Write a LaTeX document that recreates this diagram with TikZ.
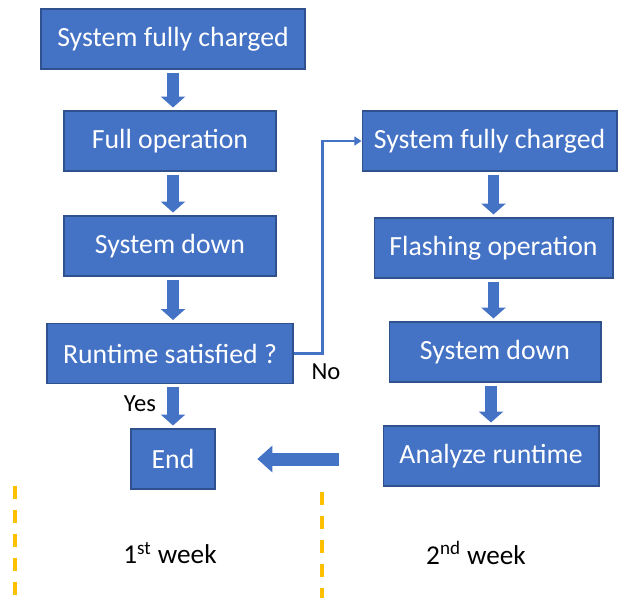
\documentclass[tikz,border=0pt]{standalone}
\usepackage{fontspec}
\setmainfont{Carlito}
\usepackage{tikz}
\usetikzlibrary{arrows.meta}
\definecolor{boxblue}{HTML}{4472C4}
\definecolor{boxline}{HTML}{2F528F}
\definecolor{weekgold}{HTML}{FFC000}

\begin{document}
\begin{tikzpicture}[x=0.02cm, y=-0.02cm, thick,
	main node/.style={rectangle,draw=boxline,fill=boxblue,text=white,line width=0.6pt,
		inner sep=0pt,minimum height=1.2cm,font=\fontsize{15.8}{18}\selectfont},
	text node/.style={font=\fontsize{14}{17}\selectfont,inner sep=0pt},
	week node/.style={font=\fontsize{15.5}{18}\selectfont,inner sep=0pt},
	flow/.style={draw=boxblue,line width=6.8pt,-{Triangle[width=13.6pt,length=6.2pt]}},
	back flow/.style={draw=boxblue,line width=7.4pt,-{Triangle[width=14.7pt,length=8.5pt]}},
	link/.style={draw=boxblue,line width=1.2pt,-{Triangle[width=5pt,length=4pt]}},
	week line/.style={draw=weekgold,line width=2.1pt,dash pattern=on 7.4pt off 6.2pt}]
	\useasboundingbox (0,0) rectangle (618,598);
	
	\node[main node,minimum width=5.28cm] (1) at (173,39) {System fully charged};
	\node[main node,minimum width=4.24cm] (2) at (170,141) {Full operation};
	\node[main node,minimum width=4.24cm] (3) at (170,246) {System down};
	\node[main node,minimum width=4.92cm] (4) at (170,353.5) {Runtime satisfied ?};
	\node[main node,minimum width=1.68cm] (5) at (173,459) {End};
	\node[main node,minimum width=5.1cm] (6) at (489.5,141) {System fully charged};
	\node[main node,minimum width=4.78cm] (7) at (493.5,248) {Flashing operation};
	\node[main node,minimum width=4.24cm] (8) at (495,352) {System down};
	\node[main node,minimum width=4.32cm] (9) at (491,456) {Analyze runtime};
	
	\draw[flow] ([yshift=-1.7pt]1.south) -- ([yshift=1.7pt]1.south |- 2.north);
	\draw[flow] ([yshift=-1.7pt]1.south |- 2.south) -- ([yshift=1.7pt]1.south |- 3.north);
	\draw[flow] ([yshift=-1.7pt]1.south |- 3.south) -- ([yshift=1.7pt]1.south |- 4.north);
	\draw[flow] ([yshift=-1.7pt]5.north |- 4.south) -- ([yshift=1.7pt]5.north);
	\draw[flow] ([yshift=-1.7pt]7.north |- 6.south) -- ([yshift=1.7pt]7.north);
	\draw[flow] ([yshift=-1.7pt]7.south) -- ([yshift=1.7pt]7.south |- 8.north);
	\draw[flow] ([yshift=-1.7pt]9.north |- 8.south) -- ([yshift=1.7pt]9.north);
	\draw[back flow] ([xshift=-25pt]9.west |- 5.east) -- ([xshift=23.8pt]5.east);
	\draw[link] (4.east) -- ++(29,0) |- (6.west);
	
	\node[text node] (no) at (326,372) {No};
	\node[text node] (yes) at (140,404) {Yes};
	\node[week node] (w1) at (170,553) {1\textsuperscript{st} week};
	\node[week node] (w2) at (476,553) {2\textsuperscript{nd} week};
	
	\draw[week line] (15,486) -- (15,598);
	\draw[week line] (322,492) -- (322,598);
\end{tikzpicture}
\end{document}
